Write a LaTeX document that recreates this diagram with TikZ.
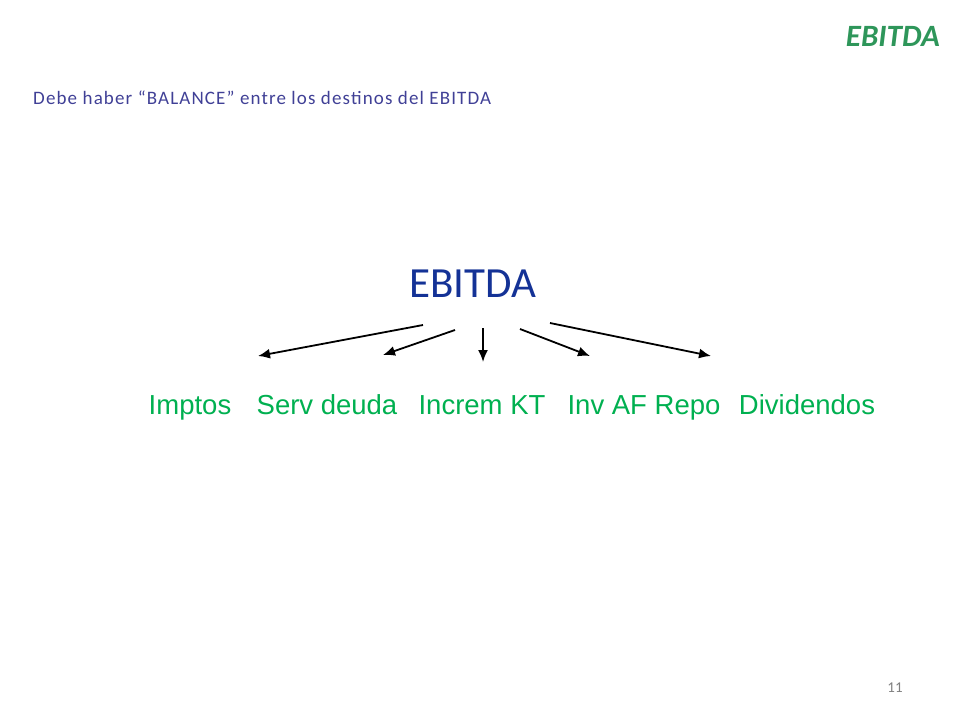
\documentclass[tikz,border=0pt]{standalone}
\usepackage{fontspec}
\setmainfont{Carlito}
\newfontfamily\arialf{Liberation Sans}
\newfontfamily\spaced[LetterSpace=6]{Carlito}
\definecolor{tgreen}{RGB}{46,150,90}
\definecolor{sblue}{RGB}{64,64,150}
\definecolor{dblue}{RGB}{20,50,150}
\definecolor{lgreen}{RGB}{0,176,80}
\usetikzlibrary{arrows.meta}
\begin{document}
\begin{tikzpicture}[x=1pt,y=-1pt,
  lab/.style={font=\arialf\fontsize{27.5}{32}\selectfont,text=lgreen,inner sep=0pt,anchor=base},
  arr/.style={-{Latex[length=12pt,width=10pt]},line width=1.8pt},
  ]
\useasboundingbox (0,0) rectangle (960,720);
\node[anchor=base east,inner sep=0pt,text=tgreen,font=\fontsize{31}{36}\selectfont\bfseries\itshape] (t) at (940,46) {EBITDA};
\node[anchor=base west,inner sep=0pt,text=sblue,font=\spaced\fontsize{19}{22}\selectfont] (s) at (33,104) {Debe haber “BALANCE” entre los destinos del EBITDA};
\node[anchor=base,inner sep=0pt,text=dblue,font=\fontsize{43}{48}\selectfont] (e) at (473,297) {EBITDA};
\node[lab] (l1) at (190,414) {Imptos};
\node[lab] (l2) at (327,414) {Serv deuda};
\node[lab] (l3) at (482,414) {Increm KT};
\node[lab] (l4) at (644,414) {Inv AF Repo};
\node[lab] (l5) at (807,414) {Dividendos};
\node[anchor=base,inner sep=0pt,text=gray,font=\fontsize{15}{18}\selectfont] (n) at (895,692) {11};
\coordinate (a1) at (423,325); \coordinate (b1) at (258,356);
\coordinate (a2) at (455,330); \coordinate (b2) at (383,355);
\coordinate (a3) at (483,328); \coordinate (b3) at (483,362);
\coordinate (a4) at (520,329); \coordinate (b4) at (590,356);
\coordinate (a5) at (550,323); \coordinate (b5) at (711,356);
\foreach \i in {1,...,5} \draw[arr] (a\i) -- (b\i);
\end{tikzpicture}
\end{document}
